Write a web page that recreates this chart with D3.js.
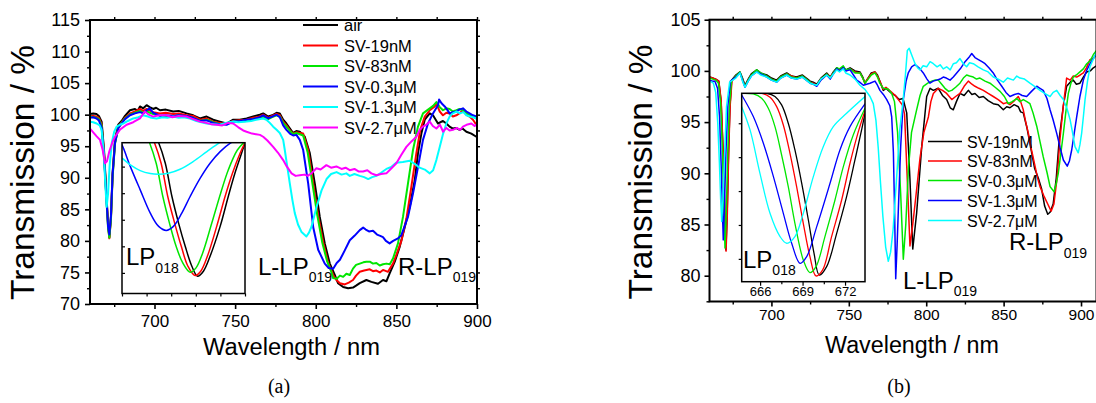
<!DOCTYPE html>
<html><head><meta charset="utf-8">
<script src="https://cdn.jsdelivr.net/npm/d3@7"></script>
<style>
body{margin:0;background:#fff}
svg{display:block}
</style>
</head><body>
<svg id="c" width="1096" height="403"></svg>
<script>
// ---------------- DATA ----------------
const namesA = ["air","SV-19nM","SV-83nM","SV-0.3\u03bcM","SV-1.3\u03bcM","SV-2.7\u03bcM"];
const colorsA = ["#000000","#ff0000","#00e600","#0000ff","#00ffff","#ff00ff"];
const namesB = ["SV-19nM","SV-83nM","SV-0.3\u03bcM","SV-1.3\u03bcM","SV-2.7\u03bcM"];
const colorsB = ["#000000","#ff0000","#00e600","#0000ff","#00ffff"];

const xTicksA = [700,750,800,850,900];
const yTicksA = [70,75,80,85,90,95,100,105,110,115];
const xTicksB = [700,750,800,850,900];
const yTicksB = [80,85,90,95,100,105];
const insetTicksB = [666,669,672];

// Panel (a) main spectra [wavelength nm, transmission %]
const a_air = [[660,100.1],[662,100.2],[664,100.1],[665.5,99.8],[667.2,98.9],[668.7,94.4],[670,88.1],[671.2,82.8],[672,80.6],[673,83.8],[674,90.7],[675.5,96.0],[677.5,98.4],[679.6,99.0],[681.7,99.8],[684.8,100.7],[687.9,100.9],[689.5,100.6],[691,101.3],[693,101.0],[695.1,101.5],[697,101.2],[699.2,100.9],[701,101.1],[703.4,100.7],[707,100.8],[711.6,100.5],[715,100.6],[719.9,100.2],[724,99.9],[728.2,99.4],[732.3,99.7],[736.4,99.2],[740.5,98.9],[744.7,98.6],[748.8,99.2],[752.9,99.2],[757.1,99.4],[761.2,99.7],[765.3,100.0],[767.4,100.2],[770.5,99.7],[773,99.9],[775.7,100.3],[777.7,100.2],[779.8,99.2],[781.8,98.6],[784,97.8],[786,97.1],[788,97.4],[790.1,97.3],[793.2,96.5],[796.3,93.9],[799.4,89.1],[802.5,83.8],[805.6,79.6],[808.7,76.4],[811.8,74.6],[813.8,73.3],[817,72.7],[820.1,72.5],[823.1,72.6],[825,72.9],[827.3,73.3],[831.4,73.8],[834.5,73.5],[838.6,73.2],[841.7,73.8],[843.8,73.6],[845.9,74.9],[849,76.7],[852.1,79.1],[855.2,82.2],[858.3,85.4],[861.4,89.6],[863.4,93.9],[865.5,97.0],[867.6,99.2],[870.7,100.2],[872.7,99.9],[875.8,98.6],[878.9,99.0],[881,98.6],[883,98.1],[885.1,97.8],[887,97.9],[889.2,97.6],[891,97.8],[893.4,97.3],[896.5,97.0],[899.6,96.5],[900,96.5]];
const a_19 = [[660,99.8],[662,99.8],[664,99.7],[665.5,99.5],[667.2,98.5],[668.7,94.0],[670,87.8],[671.2,82.5],[672,80.4],[673,83.6],[674,90.3],[675.5,95.6],[677.5,98.1],[679.6,98.8],[681.7,99.5],[684.8,100.2],[687.9,100.5],[691,100.9],[693,100.6],[695.1,100.9],[699.2,100.4],[703.4,100.2],[707,100.3],[711.6,100.1],[715,100.2],[719.9,99.9],[724,99.8],[728.2,99.2],[732.3,99.4],[736.4,98.9],[740.5,98.7],[744.7,98.5],[748.8,99.0],[752.9,99.1],[757.1,99.2],[761.2,99.5],[765.3,99.7],[767.4,100.0],[770.5,99.5],[773,99.8],[775.7,100.1],[777.7,99.9],[779.8,98.9],[781.8,98.3],[784,97.5],[786,97.0],[788,97.2],[790.1,97.1],[792.2,97.0],[795.3,94.4],[798.4,89.1],[801.5,84.0],[804.6,79.8],[807.7,76.5],[810.8,74.6],[812.8,73.8],[815,73.3],[818,73.1],[820.5,73.4],[823.1,73.8],[825,74.5],[827.3,75.1],[830,75.3],[833.5,75.5],[835.5,75.2],[837.6,75.3],[839.7,75.0],[841.7,75.4],[844.8,75.1],[847.9,76.4],[850,77.8],[853.1,80.0],[856.2,83.5],[859.3,88.6],[862.4,93.9],[864.8,97.6],[867.6,99.7],[870.7,100.7],[873.8,101.3],[874.8,101.8],[876.9,100.5],[878.9,99.9],[881,100.3],[883,100.2],[885,99.7],[887.2,99.9],[889,100.2],[891.3,100.7],[893.4,100.0],[895.4,99.7],[897.5,99.2],[899.6,98.4],[900,98.6]];
const a_83 = [[660,99.7],[662,99.6],[664,99.5],[665.5,99.3],[667.2,98.3],[668.7,93.7],[670,87.5],[671.2,82.0],[672,80.5],[673,83.4],[674,90.0],[675.5,95.4],[677.5,97.9],[679.6,98.7],[681.7,99.4],[684.8,100.0],[687.9,100.3],[691,100.6],[693,100.3],[695.1,100.5],[699.2,100.1],[703.4,99.9],[707,99.8],[711.6,99.7],[715,99.9],[719.9,99.7],[724,99.5],[728.2,99.0],[732.3,99.2],[736.4,98.8],[740.5,98.5],[744.7,98.6],[748.8,98.9],[752.9,98.9],[757.1,99.0],[761.2,99.3],[765.3,99.5],[767.4,99.7],[770.5,99.3],[773,99.6],[775.7,99.9],[777.7,99.7],[779.8,98.7],[781.8,98.1],[784,97.4],[786,96.9],[788,97.1],[790.1,96.9],[792.2,96.7],[795,94.0],[798,89.0],[801,84.0],[804,79.8],[807,76.8],[809.5,75.2],[810.8,74.1],[813,74.0],[815,74.5],[817,74.3],[819,74.8],[821.1,74.6],[823.1,75.6],[825,76.2],[827.3,76.4],[829.5,76.6],[831.4,76.7],[833.5,76.7],[835.5,76.4],[837.6,76.5],[839.7,76.1],[841.7,76.3],[843.8,76.4],[845.9,76.3],[847.9,77.2],[851,79.6],[854.1,83.8],[857.2,89.1],[860.3,94.4],[863.4,98.1],[866.5,100.2],[870.7,101.0],[872.8,101.4],[874.8,102.0],[876.9,101.2],[878.9,100.7],[881,101.0],[883,100.9],[885,100.5],[887.2,100.7],[889.2,100.9],[891.3,100.7],[893.4,100.3],[895.4,99.9],[897.5,99.8],[899.6,99.4],[900,99.5]];
const a_03 = [[660,99.5],[662,99.6],[664,99.4],[665.5,99.1],[667.2,98.0],[668.7,93.5],[670,87.5],[671.2,82.3],[672,81.0],[673,84.0],[674,90.5],[675.5,95.5],[677.5,97.8],[679.6,98.6],[681.7,99.3],[684.8,99.9],[687.9,100.2],[691,100.4],[693,100.2],[695.1,100.7],[697,101.0],[699.2,100.3],[703.4,99.8],[707,99.9],[711.6,99.8],[715,99.9],[719.9,99.8],[724,99.5],[728.2,99.0],[732.3,99.1],[736.4,98.7],[740.5,98.5],[744.7,98.4],[748.8,98.9],[752.9,99.0],[757.1,99.2],[761.2,99.3],[765.3,99.6],[767.4,99.9],[770.5,99.4],[773,99.7],[775.7,100.0],[777.7,99.6],[779.8,98.3],[781.8,97.6],[784,97.0],[786,96.7],[788,96.8],[790.1,96.0],[792.2,94.4],[795.3,89.1],[798.4,82.2],[801.5,78.6],[805.6,76.4],[808,75.7],[810.8,75.6],[813,76.5],[815,77.0],[818,78.5],[821.1,80.1],[824,80.8],[827.3,81.7],[829.4,82.1],[831,81.8],[833,81.5],[835.5,81.6],[838,81.0],[840,80.8],[841.7,80.6],[843.5,80.0],[845.8,79.6],[848,80.0],[851,80.4],[853.1,80.9],[857.2,83.8],[860.3,87.5],[863.4,91.7],[866.5,96.0],[869.6,98.6],[872.7,100.2],[875.8,101.5],[876.5,102.4],[878,101.8],[880,101.3],[881.5,100.8],[883,100.2],[885,100.4],[887.2,100.5],[889,100.8],[891.3,101.0],[893.4,100.5],[895.4,100.2],[897.5,99.9],[899.6,99.7],[900,99.8]];
const a_13 = [[660,98.9],[662,98.8],[664.1,98.6],[666,98.3],[667.2,97.6],[668.5,94.0],[669.5,89.0],[670.3,85.4],[671.2,87.5],[672.2,92.0],[673.5,95.5],[675,97.3],[676.5,98.1],[678.5,98.4],[680.6,98.6],[683.5,99.0],[686.8,99.4],[690,99.6],[693,99.9],[696,99.7],[698,99.5],[701.3,99.4],[705,99.6],[708,99.5],[711.6,99.7],[715,99.5],[718,99.6],[722,99.4],[726,99.0],[729,98.8],[732.3,98.6],[736,98.5],[740.5,98.4],[744,98.7],[748.8,98.9],[752,98.8],[757.1,98.9],[760,99.0],[763,99.2],[767.4,99.4],[769.4,99.2],[771.5,98.7],[773.6,98.1],[775.7,97.6],[777.7,97.1],[779.8,96.0],[780.8,94.4],[782.5,91.5],[783.9,89.1],[785.5,86.5],[787,84.4],[789,82.6],[791.2,81.4],[794.2,80.7],[795.8,81.3],[797.3,82.2],[800.4,85.3],[803.6,88.0],[806.7,89.8],[809.5,90.6],[812.9,90.9],[816,90.5],[819,90.7],[821.1,90.3],[824,90.6],[827.3,90.3],[830,90.1],[832.5,89.8],[835,90.1],[837.6,90.3],[840.5,90.8],[843.8,91.4],[846.8,91.7],[850,92.4],[854,92.5],[858.3,92.7],[861.4,92.2],[864.4,91.6],[867.6,91.3],[870.7,90.7],[872.8,91.2],[874.8,92.8],[877,95.0],[879,97.0],[881,98.6],[883,99.7],[885,100.2],[887.2,100.5],[889.5,100.2],[891.5,100.4],[893.4,99.9],[895.5,99.7],[897.5,99.6],[899.6,99.4],[900,99.4]];
const a_27 = [[660,97.8],[662,97.2],[664,96.6],[666.2,96.0],[667.8,94.5],[669.3,92.3],[670.5,92.6],[672,94.2],[674,95.7],[675.5,96.5],[678.5,97.6],[682.7,98.4],[686.8,98.8],[691,99.4],[694,100.5],[696.5,100.0],[699.2,99.7],[703,99.9],[707.5,99.9],[711,99.6],[715,99.8],[719.9,99.7],[724,99.3],[728.2,98.9],[732,98.7],[735,98.5],[738.5,98.4],[742,98.3],[745.5,98.7],[748.8,98.6],[752,98.0],[755,97.5],[757.1,97.3],[760.5,97.0],[763,96.9],[765.4,96.8],[767.4,96.5],[770,95.9],[773.6,94.9],[776.5,94.0],[779.8,92.8],[782,91.8],[785,90.7],[787.5,90.3],[790.1,90.4],[793,90.5],[795,90.3],[797.3,90.7],[800.4,91.5],[803,91.3],[806.6,92.0],[809.5,91.6],[812.8,91.8],[816,91.4],[818.5,91.6],[821.1,91.2],[824,91.4],[826.5,91.0],[829.3,91.0],[832,91.2],[834.5,90.7],[837.6,90.4],[840.5,90.6],[843.8,90.7],[846.5,91.4],[850,92.3],[853,93.6],[856.2,94.9],[859.5,95.8],[862.4,96.5],[864.5,97.6],[866.5,98.1],[868.5,98.4],[870.7,98.9],[872.6,98.2],[874.8,97.8],[877,98.4],[879,97.3],[881,97.9],[883,97.5],[885.1,97.6],[887.5,97.9],[889.5,97.6],[891.3,98.1],[893.5,98.4],[896.5,98.6],[898.5,98.2],[900,98.5]];

// Panel (a) inset: LP018 dip (no axis labels in the original)
const ai_air = [[669.3,92.5],[669.49,91.8],[669.76,90.25],[670.03,87.75],[670.30,85.75],[670.57,84.0],[670.84,82.5],[671.07,81.75],[671.31,82.13],[671.58,83.25],[671.99,85.5],[672.32,87.75],[672.59,89.5],[672.86,91.0],[673.0,91.8]];
const ai_19 = [[669.15,92.5],[669.32,91.8],[669.59,90.25],[669.86,87.75],[670.14,85.75],[670.41,84.0],[670.68,82.5],[670.97,81.8],[671.20,82.13],[671.47,83.25],[671.85,85.5],[672.19,87.75],[672.49,89.5],[672.80,91.0],[673.0,91.8]];
const ai_83 = [[668.95,92.5],[669.12,91.8],[669.39,90.25],[669.66,87.75],[669.93,85.75],[670.20,84.0],[670.47,82.75],[670.77,82.05],[671.01,82.38],[671.28,83.5],[671.65,85.75],[672.01,88.0],[672.32,89.75],[672.69,91.25],[673.0,91.9]];
const ai_03 = [[667.9,91.9],[668.0,91.63],[668.34,90.0],[668.74,88.25],[669.15,86.5],[669.49,85.5],[669.80,85.2],[670.09,85.5],[670.43,86.5],[670.77,87.75],[671.18,89.13],[671.58,90.25],[671.99,91.13],[672.39,91.75],[672.80,92.13]];
const ai_13 = [[667.9,90.7],[668.0,90.63],[668.34,90.13],[668.74,89.7],[669.15,89.48],[669.49,89.43],[669.88,89.5],[670.36,89.8],[670.89,90.38],[671.45,91.13],[671.97,91.8],[672.39,92.25]];

// Panel (b) main spectra
const b_19 = [[660,99.4],[662,99.3],[664,99.2],[666,99.0],[667.5,97.0],[668.8,92.0],[669.8,86.5],[670.6,82.5],[671.4,86.0],[672.3,92.0],[673.2,96.5],[674.3,99.1],[677,99.6],[679.7,99.9],[681.3,99.3],[682.9,98.6],[685,99.2],[687,99.7],[690.5,100.1],[693,99.8],[697,99.6],[700,99.3],[703.4,99.1],[706,99.5],[709.9,99.8],[713,99.5],[716.3,99.4],[720,99.6],[722.5,99.3],[725,99.0],[727,98.9],[729.3,98.7],[732,99.3],[735.7,99.8],[738,99.4],[740,99.9],[742.2,100.3],[744,100.1],[746.4,100.4],[748,100.1],[750.8,100.3],[754,100.0],[757.2,99.9],[759,99.4],[760.4,98.8],[762,99.2],[764.5,99.8],[766.9,99.9],[768.5,99.6],[770,99.0],[772.3,98.1],[774,98.3],[775.5,98.1],[777.7,97.8],[780,97.6],[782.5,97.2],[785,97.3],[787.4,95.9],[789.5,89.4],[791.3,82.6],[793.8,86.1],[797.1,92.6],[800.3,97.5],[802.5,98.3],[804.6,98.1],[807.8,98.3],[810.5,97.6],[813.2,97.2],[815.5,96.4],[817.5,96.2],[819.5,97.0],[821.8,97.8],[824.5,97.6],[827.2,98.1],[829.5,97.7],[831.5,97.8],[834.2,97.4],[836.9,97.5],[840,97.1],[843.3,96.8],[846.5,96.7],[849.8,96.2],[852,96.5],[854.1,96.4],[856.8,96.7],[859.5,96.5],[861,96.0],[862.7,95.9],[865,94.5],[867.5,92.5],[870,90.5],[872.5,89.5],[874.5,88.5],[876.5,86.8],[878.5,86.0],[880,86.2],[882,87.0],[884,89.5],[886,93.5],[888.5,96.5],[890.7,98.5],[893,98.9],[895,99.1],[897,98.7],[899.3,98.8],[901.5,99.4],[903.7,99.9],[906,100.0],[908,100.3],[910,100.5]];
const b_83 = [[660,99.4],[662,99.3],[664,99.2],[666,99.0],[667.5,97.2],[668.9,92.0],[669.9,86.5],[670.7,82.4],[671.5,86.0],[672.4,92.0],[673.3,96.5],[674.5,99.0],[677,99.5],[679.7,99.8],[681.3,99.2],[682.9,98.5],[685,99.1],[687,99.6],[690.5,100.0],[693,99.7],[697,99.5],[700,99.2],[703.4,99.0],[706,99.4],[709.9,99.7],[713,99.5],[716.3,99.3],[720,99.5],[722.5,99.2],[725,98.9],[727,98.8],[729.3,98.6],[732,99.2],[735.7,99.7],[738,99.4],[740,99.8],[742.2,100.2],[744,100.1],[746.4,100.3],[748,100.0],[750.8,100.2],[754,99.9],[757.2,99.8],[759,99.3],[760.4,98.8],[762,99.2],[764.5,99.7],[766.9,99.9],[768.5,99.5],[770,99.0],[772.3,98.2],[774,98.4],[775.5,98.2],[777.7,97.9],[780,97.6],[782.5,97.1],[784.5,96.7],[786,95.8],[787.6,90.0],[789.5,82.9],[791.3,85.0],[793.5,88.0],[796,91.5],[798.5,94.0],[801.4,95.5],[803,97.0],[804.6,97.8],[807.8,98.3],[810.5,98.1],[813.2,97.8],[816.5,97.2],[819,97.5],[821.8,97.8],[824.5,98.5],[827.2,99.0],[829.5,98.7],[831.5,98.5],[834,98.3],[836.9,98.1],[840,97.8],[843.3,97.5],[846.5,97.2],[849.8,96.8],[852,96.9],[854.1,96.7],[857,97.1],[859.5,97.5],[861,97.0],[862.7,96.2],[864.3,95.0],[866,93.9],[868,92.3],[870.3,90.7],[872,89.5],[873.5,88.7],[876,87.8],[878.5,87.0],[880.7,86.3],[882.5,87.0],[884.5,89.5],[886.5,93.5],[888.5,96.5],[890.7,99.3],[893,99.1],[895,99.5],[897.2,99.4],[899.5,99.6],[901.5,99.8],[903.5,100.3],[905.8,101.1],[907.5,101.2],[910,101.5]];
const b_03 = [[660,99.3],[662,99.2],[664,99.1],[665.8,98.8],[667.2,96.8],[668.4,92.0],[669.3,86.5],[670.0,82.7],[670.8,86.0],[671.8,92.0],[672.8,96.5],[674.2,99.0],[677,99.5],[679.7,99.9],[681.3,99.2],[682.9,98.5],[685,99.1],[687,99.6],[690.5,100.1],[693,99.8],[697,99.5],[700,99.2],[703.4,99.0],[706,99.4],[709.9,99.7],[713,99.4],[716.3,99.3],[720,99.5],[722.5,99.2],[725,98.9],[727,98.7],[729.3,98.6],[732,99.2],[735.7,99.7],[738,99.3],[740,99.8],[742.2,100.3],[744,100.2],[746.4,100.5],[748,100.1],[750.8,100.2],[754,99.8],[757.2,99.8],[759,99.3],[760.4,98.8],[762,99.1],[764.5,99.6],[766.9,99.8],[768.5,99.4],[770,98.8],[772.3,98.3],[775.5,98.2],[777.7,97.8],[779.5,97.0],[781.5,94.0],[783.5,88.0],[785.2,81.6],[786.8,85.0],[788.5,90.5],[790.5,94.0],[793.8,96.2],[796,97.6],[798.1,98.5],[801,98.8],[803.5,99.0],[805.5,99.1],[807.8,99.1],[810,98.7],[812.1,98.3],[814.5,98.0],[816.5,98.1],[819,98.4],[821.8,98.8],[824,99.3],[826.1,99.6],[828,99.5],[830.4,99.4],[832.5,99.2],[834.7,99.3],[838,99.0],[841.2,98.8],[844.5,98.4],[847.7,98.0],[850.5,97.5],[853,96.8],[855.5,97.0],[858.5,97.3],[860.5,97.0],[862.7,97.2],[865,97.0],[867,96.8],[869,95.9],[871.4,94.6],[873.5,93.1],[875.6,91.6],[878,90.1],[880,88.7],[882.6,88.2],[884,89.0],[885.3,90.0],[887,92.0],[888.6,93.9],[890.2,96.0],[891.8,97.8],[893.5,98.8],[895,99.4],[897,99.6],[899.3,99.9],[901.5,100.2],[903.7,100.7],[906,101.0],[908,101.6],[910,102.0]];
const b_13 = [[660,99.1],[662,99.0],[663.5,99.0],[665.2,98.3],[666.5,95.5],[667.6,90.5],[668.3,86.5],[668.9,83.5],[669.6,86.5],[670.6,92.0],[671.8,96.5],[673.5,99.0],[677,99.4],[679.7,99.8],[681.3,99.1],[682.9,98.4],[685,99.0],[687,99.5],[690.5,99.9],[693,99.7],[697,99.4],[700,99.1],[703.4,98.9],[706,99.3],[709.9,99.6],[713,99.3],[716.3,99.2],[720,99.4],[722.5,99.1],[725,98.8],[727,98.7],[729.3,98.5],[732,99.1],[735.7,99.6],[738,99.2],[740,99.7],[742.2,100.2],[744,100.0],[746.4,100.3],[748,100.0],[750.8,100.1],[753,99.6],[755.1,99.1],[757,98.9],[759.4,98.6],[761.5,98.7],[763.7,98.8],[766.9,99.0],[768.5,98.6],[770.1,98.1],[772.3,97.7],[774.5,97.2],[776.5,96.6],[777.7,95.5],[778.8,92.0],[779.6,86.0],[780.3,79.7],[781.2,83.0],[782,86.5],[783.5,92.6],[785.2,97.2],[787,99.0],[788.4,99.8],[790.6,100.4],[792.5,100.6],[793.8,100.5],[796,100.2],[798.1,99.8],[800.5,99.2],[802.4,98.8],[804.5,99.0],[806.8,99.1],[809,99.2],[811,99.4],[813,99.3],[815.4,99.1],[817.5,99.4],[819.7,99.8],[822,100.2],[825.1,100.9],[827.5,101.3],[829.4,101.7],[831.5,101.3],[833.7,101.1],[836,100.9],[838,100.7],[840.5,100.3],[843.3,99.8],[846,99.1],[848.8,98.5],[851.5,97.9],[854.1,97.5],[857,97.7],[859.5,97.8],[862,97.6],[864.9,97.5],[868,98.0],[871.4,98.5],[873.5,98.3],[875.6,98.1],[878,97.3],[880,96.2],[882,95.2],[884.3,93.9],[886.5,92.5],[888.6,91.3],[891.1,90.7],[892.5,91.2],[894,92.3],[895.5,93.8],[897.2,95.5],[899.3,97.5],[901.5,99.1],[903.5,100.0],[905.8,100.7],[907.5,101.1],[910,101.7]];
const b_27 = [[660,99.0],[661.5,98.9],[662.5,98.8],[664,97.9],[665.3,95.0],[666.4,91.0],[667.2,87.5],[667.9,85.3],[668.7,87.5],[669.8,92.0],[671,96.5],[673,98.9],[677,99.3],[679.7,99.8],[681.3,99.0],[682.9,98.4],[685,99.0],[687,99.5],[690.5,99.9],[693,99.6],[697,99.4],[700,99.1],[703.4,98.9],[706,99.3],[709.9,99.6],[713,99.3],[716.3,99.2],[720,99.4],[722.5,99.1],[725,98.8],[727,98.7],[729.3,98.6],[732,99.2],[735.7,99.6],[738,99.3],[740,99.7],[742.2,100.1],[744,99.9],[746.4,100.2],[748,99.8],[750.8,99.6],[754,99.2],[757.2,98.6],[760.4,98.2],[763.7,97.5],[765.8,96.8],[767.5,95.2],[769,92.5],[770.5,89.0],[772,85.8],[773.8,82.8],[775.5,81.4],[777,82.3],[778.6,84.5],[780.8,89.4],[782.9,94.2],[785.1,97.2],[786.5,99.5],[787.8,102.0],[789,102.2],[790.5,101.6],[792.8,100.7],[794.5,100.3],[796,100.1],[798,100.5],[800.3,100.4],[802.5,100.9],[804.6,100.7],[807,100.4],[809,100.6],[811,100.2],[813.2,100.4],[815.5,100.1],[817.5,100.7],[819.5,100.8],[821.8,101.2],[824,100.7],[826.1,100.4],[828,100.8],[830.4,100.7],[833.5,100.4],[836.9,100.1],[840,99.9],[843.3,99.4],[846.5,99.2],[849.8,98.9],[852.5,99.3],[856.3,99.1],[858.5,99.5],[860.6,99.3],[863.5,99.2],[867,98.8],[870,98.5],[873.5,98.1],[876.5,97.8],[880,97.5],[882,97.9],[884.3,98.1],[886.5,97.6],[888.6,97.2],[891,96.3],[893,95.2],[894.5,94.0],[896.1,92.6],[898.2,92.0],[899.3,92.8],[900.4,93.9],[901.5,95.5],[902.6,97.2],[904.2,99.0],[905.8,100.4],[907.5,101.0],[910,101.8]];

// Panel (b) inset: LP018 dip
const bi_19 = [[664.70,98.65],[666.46,98.65],[667.05,98.36],[667.52,97.62],[667.99,96.0],[668.46,93.64],[668.94,90.69],[669.41,87.44],[669.81,84.49],[670.18,82.57],[670.70,83.31],[671.41,86.26],[672.11,89.51],[672.70,92.75],[673.17,95.41],[673.41,96.88]];
const bi_83 = [[664.70,98.65],[666.11,98.65],[666.70,98.30],[667.17,97.47],[667.64,95.85],[668.11,93.34],[668.58,90.39],[669.05,87.15],[669.52,84.20],[669.95,82.49],[670.42,83.02],[671.05,85.97],[671.76,89.21],[672.35,92.46],[672.94,95.26],[673.41,97.12]];
const bi_03 = [[664.70,98.65],[665.52,98.59],[666.11,98.21],[666.58,97.32],[667.05,95.70],[667.52,93.19],[667.99,90.39],[668.46,87.15],[669.05,83.90],[669.52,82.78],[669.95,83.31],[670.58,85.97],[671.29,89.21],[671.88,92.16],[672.58,94.96],[673.41,97.32]];
const bi_13 = [[664.70,98.50],[665.52,96.59],[666.23,94.23],[666.94,91.28],[667.64,88.03],[668.23,85.38],[668.82,83.61],[669.29,84.20],[670.00,86.85],[670.94,90.69],[671.64,93.64],[672.35,95.70],[673.41,97.71]];
const bi_27 = [[664.70,97.47],[665.29,95.41],[665.99,91.57],[666.70,88.03],[667.41,85.97],[667.88,85.38],[668.46,85.97],[669.05,88.03],[669.76,91.28],[670.46,93.93],[671.17,95.70],[672.11,96.88],[673.41,98.36]];

// ---------------- DRAWING ----------------
const FONT = "'Liberation Sans', Arial, Helvetica, sans-serif";
const svg = d3.select("#c");
svg.append("rect").attr("width",1096).attr("height",403).attr("fill","#fff");

function range(a,b,s){const r=[];for(let v=a;v<=b+1e-9;v+=s)r.push(+v.toFixed(4));return r;}

function axis(gen, scale, vals, size, fmt, tr, fs, pad, sw){
  const g = svg.append("g").attr("transform",tr)
    .call(gen(scale).tickValues(vals).tickSize(size).tickSizeOuter(0).tickPadding(pad).tickFormat(fmt));
  g.select(".domain").remove();
  g.selectAll("line").attr("stroke","#000").attr("stroke-width",sw);
  g.selectAll("text").attr("font-family",FONT).attr("font-size",fs).attr("fill","#000");
  return g;
}
const blank = () => "";

function plot(P){
  const x = d3.scaleLinear().domain(P.xd).range(P.xr);
  const y = d3.scaleLinear().domain(P.yd).range(P.yr);
  const L=P.xr[0], R=P.xr[1], B=P.yr[0], T=P.yr[1];
  svg.append("clipPath").attr("id",P.id).append("rect")
    .attr("x",L).attr("y",T).attr("width",R-L).attr("height",B-T);
  if(P.bg) svg.append("rect").attr("x",L).attr("y",T).attr("width",R-L).attr("height",B-T).attr("fill","#fff");
  const line = d3.line().x(d=>x(d[0])).y(d=>y(d[1])).curve(P.curve);
  const gl = svg.append("g").attr("clip-path",`url(#${P.id})`);
  P.series.forEach((s,i)=>{
    gl.append("path").attr("d",line(s)).attr("fill","none")
      .attr("stroke",P.colors[i]).attr("stroke-width",P.lw)
      .attr("stroke-linejoin","round").attr("stroke-linecap","round");
  });
  svg.append("rect").attr("x",L).attr("y",T).attr("width",R-L).attr("height",B-T)
    .attr("fill","none").attr("stroke","#000").attr("stroke-width",P.fw);
  return {x,y};
}
function title(x0,y0,txt,fs,len,rot){
  const t = svg.append("text").attr("text-anchor","middle").attr("font-family",FONT)
    .attr("font-size",fs).attr("textLength",len).attr("lengthAdjust","spacingAndGlyphs").text(txt);
  if(rot) t.attr("transform",`translate(${x0},${y0}) rotate(-90)`);
  else t.attr("x",x0).attr("y",y0);
}

// ===== Panel (a) =====
const A = plot({id:"ca", xd:[660,900], xr:[90,477], yd:[70,115], yr:[304,20],
  series:[a_air,a_19,a_83,a_03,a_13,a_27], colors:colorsA, lw:2, fw:2, curve:d3.curveLinear});
axis(d3.axisBottom, A.x, xTicksA, 5, d3.format("d"), "translate(0,304)", 17, 6, 1.6);
axis(d3.axisBottom, A.x, range(675,900,50), 3, blank, "translate(0,304)", 17, 3, 1.4);
axis(d3.axisTop, A.x, range(675,900,25), 3, blank, "translate(0,20)", 17, 3, 1.4);
axis(d3.axisLeft, A.y, yTicksA, 5, d3.format("d"), "translate(90,0)", 18, 5, 1.6);
axis(d3.axisLeft, A.y, range(72.5,112.5,5), 3, blank, "translate(90,0)", 18, 3, 1.4);
axis(d3.axisRight, A.y, range(72.5,115,2.5), 3, blank, "translate(477,0)", 18, 3, 1.4);

// inset (a)
const AI = plot({id:"cai", xd:[668,673], xr:[122,245], yd:[80.45,91.8], yr:[293.5,142.7], bg:true,
  series:[ai_air,ai_19,ai_83,ai_03,ai_13], colors:colorsA, lw:1.5, fw:1.5, curve:d3.curveCatmullRom});
axis(d3.axisBottom, AI.x, range(668,673,1), 3, blank, "translate(0,293.5)", 12, 2, 1.2);
axis(d3.axisLeft, AI.y, range(82,90,2), -3, blank, "translate(122,0)", 12, 2, 1.2);

function lp(x0,y0,main,sub,fs,fsSub,dy){
  const t = svg.append("text").attr("x",x0).attr("y",y0).attr("font-family",FONT).attr("font-size",fs).attr("fill","#000");
  t.append("tspan").text(main);
  t.append("tspan").attr("font-size",fsSub).attr("dy",dy).text(sub);
}
lp(126, 265, "LP", "018", 24, 14, 8);
lp(258, 275, "L-LP", "019", 24, 14, 7);
lp(398, 275, "R-LP", "019", 24, 14, 7);

const legA = svg.append("g");
const legAy = [25,45.5,66,86.5,107,127.5];
namesA.forEach((n,i)=>{
  legA.append("line").attr("x1",303).attr("x2",338).attr("y1",legAy[i]).attr("y2",legAy[i])
    .attr("stroke",colorsA[i]).attr("stroke-width",2);
  legA.append("text").attr("x",344).attr("y",legAy[i]+6).attr("font-family",FONT).attr("font-size",16.5).text(n);
});

title(34,172.5,"Transmission / %",33,255,true);
title(291.5,355,"Wavelength / nm",23.5,177,false);
svg.append("text").attr("x",279).attr("y",393).attr("text-anchor","middle")
  .attr("font-family","'Liberation Serif','Times New Roman',serif").attr("font-size",20).text("(a)");

// ===== Panel (b) =====
const Bp = plot({id:"cb", xd:[660,910], xr:[709.5,1096.5], yd:[77.48,105], yr:[301.5,19.7],
  series:[b_19,b_83,b_03,b_13,b_27], colors:colorsB, lw:1.5, fw:2, curve:d3.curveLinear});
axis(d3.axisBottom, Bp.x, xTicksB, 5, d3.format("d"), "translate(0,301.5)", 15.5, 2, 1.6);
axis(d3.axisBottom, Bp.x, range(675,900,50), 3, blank, "translate(0,301.5)", 15.5, 3, 1.4);
axis(d3.axisTop, Bp.x, range(675,900,25), 3, blank, "translate(0,19.7)", 15.5, 3, 1.4);
axis(d3.axisLeft, Bp.y, yTicksB, 5, d3.format("d"), "translate(709.5,0)", 18, 4, 1.6);
axis(d3.axisLeft, Bp.y, range(77.5,102.5,5), 3, blank, "translate(709.5,0)", 18, 3, 1.4);

// inset (b)
const BI = plot({id:"cbi", xd:[664.7,673.41], xr:[741.7,865], yd:[81.98,98.65], yr:[281.7,93.3], bg:true,
  series:[bi_19,bi_83,bi_03,bi_13,bi_27], colors:colorsB, lw:1.3, fw:1.5, curve:d3.curveCatmullRom});
axis(d3.axisBottom, BI.x, insetTicksB, 4, d3.format("d"), "translate(0,281.7)", 13, 1.5, 1.2);
axis(d3.axisBottom, BI.x, range(667.5,673,3), 2.5, blank, "translate(0,281.7)", 13, 2, 1.2);
axis(d3.axisLeft, BI.y, range(84,96,3), 3, blank, "translate(741.7,0)", 12, 2, 1.2);

lp(743, 268, "LP", "018", 24, 14, 7);
lp(903, 289, "L-LP", "019", 24, 14, 7);
lp(1009, 250, "R-LP", "019", 24, 14, 8);

const legB = svg.append("g");
const legBy = [141.5,161,180.5,200.5,220.5];
namesB.forEach((n,i)=>{
  legB.append("line").attr("x1",928).attr("x2",962).attr("y1",legBy[i]).attr("y2",legBy[i])
    .attr("stroke",colorsB[i]).attr("stroke-width",1.6);
  legB.append("text").attr("x",967).attr("y",legBy[i]+6).attr("font-family",FONT).attr("font-size",16).text(n);
});

title(652,172,"Transmission / %",33,255,true);
title(912,353,"Wavelength / nm",23.5,174,false);
svg.append("text").attr("x",899).attr("y",393).attr("text-anchor","middle")
  .attr("font-family","'Liberation Serif','Times New Roman',serif").attr("font-size",20).text("(b)");
</script>
</body></html>
